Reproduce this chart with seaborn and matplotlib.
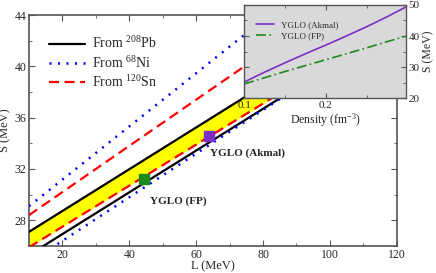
import matplotlib.pyplot as plt
import seaborn as sns
import pandas as pd
from matplotlib.ticker import MultipleLocator

sns.set_style("ticks")
plt.rcParams['font.family'] = ['Liberation Serif', 'DejaVu Serif']
plt.rcParams['mathtext.fontset'] = 'custom'
plt.rcParams['mathtext.rm'] = 'Liberation Serif'
plt.rcParams['mathtext.it'] = 'Liberation Serif:italic'

# ====================== DATA ======================
L_ends = [10, 120]
pb_upper = [27.1, 45.0]
pb_lower = [25.3, 43.2]
ni_upper = [29.1, 51.9]
ni_lower = [24.7, 43.4]
sn_upper = [28.4, 48.2]
sn_lower = [25.9, 43.5]

models = ['YGLO (Akmal)', 'YGLO (FP)']
model_L = [63.8, 44.4]
model_S = [34.6, 31.2]
model_colors = ['#7b2fc6', '#1d8a1d']

density = [0.10, 0.125, 0.15, 0.175, 0.20, 0.225, 0.25, 0.275, 0.30]
S_akmal = [25.2, 28.4, 31.4, 34.3, 37.1, 40.0, 43.0, 46.2, 49.6]
S_fp = [24.6, 26.6, 28.6, 30.5, 32.4, 34.3, 36.2, 38.2, 40.1]

df_inset = pd.DataFrame({'density': density * 2,
                         'S': S_akmal + S_fp,
                         'model': ['YGLO (Akmal)'] * len(density) + ['YGLO (FP)'] * len(density)})

# ====================== PLOT ======================
fig = plt.figure(figsize=(4.36, 2.73), dpi=100)
ax = fig.add_axes([0.0665, 0.099, 0.8435, 0.846])

ax.fill_between(L_ends, sn_lower, pb_upper, color='#ffff00', lw=0, zorder=1)
sns.lineplot(x=L_ends, y=pb_upper, ax=ax, color='black', lw=1.6, label='From $^{208}$Pb', zorder=3)
sns.lineplot(x=L_ends, y=ni_upper, ax=ax, color='#0000ff', lw=1.8, ls=(0, (0.8, 2.6)),
             label='From $^{68}$Ni', zorder=3)
sns.lineplot(x=L_ends, y=sn_upper, ax=ax, color='#ff0000', lw=1.6, ls=(0, (4.5, 2.5)),
             label='From $^{120}$Sn', zorder=3)
sns.lineplot(x=L_ends, y=pb_lower, ax=ax, color='black', lw=1.6, zorder=3)
sns.lineplot(x=L_ends, y=ni_lower, ax=ax, color='#0000ff', lw=1.8, ls=(0, (0.8, 2.6)), zorder=3)
sns.lineplot(x=L_ends, y=sn_lower, ax=ax, color='#ff0000', lw=1.6, ls=(0, (4.5, 2.5)), zorder=3)

for Lm, Sm, c in zip(model_L, model_S, model_colors):
    ax.plot(Lm, Sm, marker='s', ms=7, color=c, mec=c, zorder=4)

ax.text(64.1, 33.2, 'YGLO (Akmal)', fontsize=8, fontweight='bold', va='center')
ax.text(46.2, 29.5, 'YGLO (FP)', fontsize=8, fontweight='bold', va='center')

ax.set_xlim(10, 120)
ax.set_ylim(26, 44)
ax.xaxis.set_major_locator(MultipleLocator(20))
ax.xaxis.set_minor_locator(MultipleLocator(10))
ax.yaxis.set_major_locator(MultipleLocator(4))
ax.yaxis.set_minor_locator(MultipleLocator(2))
ax.tick_params(which='both', direction='in', top=True, right=True, labelsize=8.5,
               color='#555555', pad=2)
ax.tick_params(which='major', length=4)
ax.tick_params(which='minor', length=2)
ax.set_xlabel('L (MeV)', fontsize=9, labelpad=0)
ax.set_ylabel('S (MeV)', fontsize=9, labelpad=2)
for s in ax.spines.values():
    s.set_color('#555555')
    s.set_linewidth(1.2)

ax.legend(loc='upper left', frameon=False, fontsize=10, handlelength=2.6,
          bbox_to_anchor=(0.02, 0.965), labelspacing=0.25, handletextpad=0.5)

# inset
axin = fig.add_axes([0.560, 0.640, 0.371, 0.342])
axin.set_facecolor('#d9d9d9')
sns.lineplot(data=df_inset, x='density', y='S', hue='model', style='model',
             palette=model_colors, dashes=['', (6, 2, 1, 2)], ax=axin, lw=1.2)
axin.set_xlim(0.1, 0.298)
axin.set_ylim(20, 50)
axin.xaxis.set_major_locator(MultipleLocator(0.1))
axin.xaxis.set_minor_locator(MultipleLocator(0.05))
axin.yaxis.set_major_locator(MultipleLocator(10))
axin.yaxis.set_minor_locator(MultipleLocator(5))
axin.yaxis.tick_right()
axin.yaxis.set_label_position('right')
axin.tick_params(which='both', direction='in', top=True, left=True, right=True,
                 labelsize=8, color='#555555', pad=2)
axin.tick_params(which='major', length=3.5)
axin.tick_params(which='minor', length=2)
axin.set_xlabel('Density (fm$^{-3}$)', fontsize=8.5, labelpad=1)
axin.set_ylabel('S (MeV)', fontsize=8.5, labelpad=2)
for s in axin.spines.values():
    s.set_color('#555555')
    s.set_linewidth(1.0)
axin.legend(loc='upper left', frameon=False, fontsize=6.5, handlelength=2.0,
            bbox_to_anchor=(0.02, 0.92), labelspacing=0.3, handletextpad=0.8)

fig.savefig('out.png', dpi=100)
